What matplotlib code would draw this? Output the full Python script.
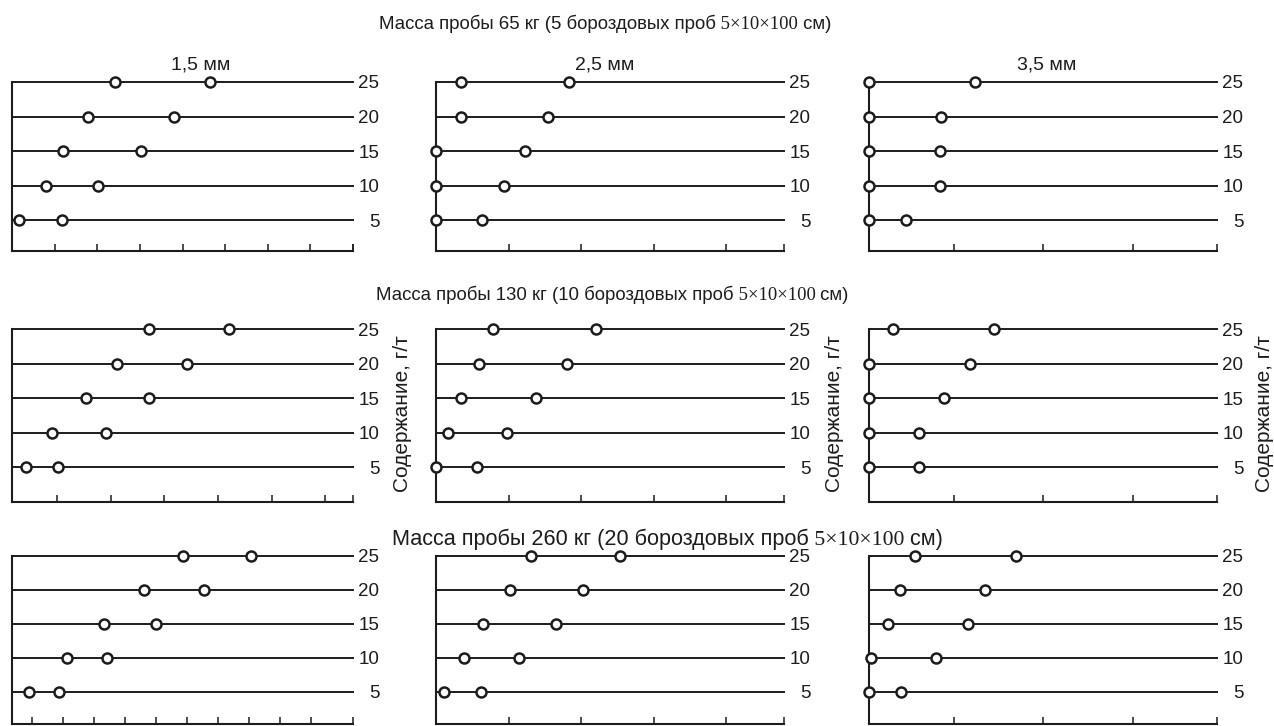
import matplotlib
matplotlib.use("Agg")
import matplotlib.pyplot as plt

plt.rcParams["font.family"] = ["Liberation Sans", "DejaVu Sans"]

INK = "#1c1c1c"
W, H = 1274, 726

LEVELS = [5, 10, 15, 20, 25]
LEVEL_LABELS = ["5", "10", "15", "20", "25"]

ROW_TITLES = [
    ("Масса пробы 65 кг (5 бороздовых проб", "5×10×100", "см)"),
    ("Масса пробы 130 кг (10 бороздовых проб", "5×10×100", "см)"),
    ("Масса пробы 260 кг (20 бороздовых проб", "5×10×100", "см)"),
]
COL_TITLES = ["1,5 мм", "2,5 мм", "3,5 мм"]
YLABEL = "Содержание, г/т"

# point positions, in units of the tick spacing of each panel (levels 5..25)
# 65 kg
m65_15_lo = [0.16, 0.80, 1.20, 1.78, 2.42]
m65_15_hi = [1.17, 2.02, 3.03, 3.80, 4.65]
m65_25_lo = [0.00, 0.00, 0.00, 0.34, 0.34]
m65_25_hi = [0.63, 0.94, 1.23, 1.54, 1.83]
m65_35_lo = [0.05, 0.05, 0.05, 0.05, 0.05]
m65_35_hi = [0.46, 0.84, 0.84, 0.85, 1.23]
# 130 kg
m130_15_lo = [0.42, 0.91, 1.54, 2.12, 2.72]
m130_15_hi = [1.02, 1.92, 2.71, 3.42, 4.21]
m130_25_lo = [0.00, 0.16, 0.35, 0.59, 0.78]
m130_25_hi = [0.57, 0.98, 1.38, 1.80, 2.21]
m130_35_lo = [0.05, 0.05, 0.05, 0.05, 0.32]
m130_35_hi = [0.61, 0.61, 0.89, 1.18, 1.45]
# 260 kg
m260_15_lo = [0.92, 2.15, 3.34, 4.62, 5.86]
m260_15_hi = [1.87, 3.42, 5.01, 6.56, 8.06]
m260_25_lo = [0.11, 0.39, 0.65, 1.02, 1.31]
m260_25_hi = [0.62, 1.15, 1.65, 2.03, 2.54]
m260_35_lo = [0.05, 0.07, 0.26, 0.40, 0.56]
m260_35_hi = [0.41, 0.80, 1.16, 1.35, 1.69]

PANELS = [
    [(m65_15_lo, m65_15_hi), (m65_25_lo, m65_25_hi), (m65_35_lo, m65_35_hi)],
    [(m130_15_lo, m130_15_hi), (m130_25_lo, m130_25_hi), (m130_35_lo, m130_35_hi)],
    [(m260_15_lo, m260_15_hi), (m260_25_lo, m260_25_hi), (m260_35_lo, m260_35_hi)],
]

# x ranges / tick counts per panel
XLIMS = [
    [(0.0, 8.0), (0.0, 4.8), (0.05, 3.94)],
    [(0.16, 6.52), (0.0, 4.8), (0.05, 3.94)],
    [(0.365, 11.35), (0.0, 4.8), (0.05, 3.94)],
]
NTICKS = [[8, 4, 3], [6, 4, 3], [10, 4, 3]]
YBOTTOM = [0.51, -0.07, 0.29]

# layout in pixels
COL_X = [(12, 353), (436, 784), (869, 1217)]
ROW_Y = [(82, 251), (329, 502), (556, 724)]
TITLE_X = [379, 376, 392]
TITLE_BASE = [29, 300, 545]
TITLE_SIZE = [13.4, 13.4, 15.6]


def fx(px):
    return px / W


def fy(py):
    return 1 - py / H


def draw_title(fig, renderer, x, y, parts, size):
    fams = [["Liberation Sans"], ["Liberation Serif"], ["Liberation Sans"]]
    for i, s in enumerate(parts):
        txt = s if i == 0 else " " + s
        t = fig.text(fx(x), fy(y), txt, family=fams[i], fontsize=size,
                     color=INK, ha="left", va="baseline")
        x = t.get_window_extent(renderer).x1


fig = plt.figure(figsize=(W / 100, H / 100), dpi=100)
renderer = fig.canvas.get_renderer()

for r in range(3):
    for c in range(3):
        (x0, x1), (y0, y1) = COL_X[c], ROW_Y[r]
        ax = fig.add_axes([fx(x0), fy(y1), fx(x1 - x0), (y1 - y0) / H])
        lo, hi = PANELS[r][c]
        xmin, xmax = XLIMS[r][c]
        ax.set_xlim(xmin, xmax)
        ax.set_ylim(YBOTTOM[r], 25)

        for lv in LEVELS:
            ax.axhline(lv, color=INK, lw=1.4, zorder=1, clip_on=False)
        for xs in (lo, hi):
            ax.plot(xs, LEVELS, ls="none", marker="o", ms=7.2, mew=1.8,
                    mfc="white", mec=INK, zorder=3, clip_on=False)

        for side in ("top", "right"):
            ax.spines[side].set_visible(False)
        for side in ("left", "bottom"):
            ax.spines[side].set_linewidth(1.5)
            ax.spines[side].set_color(INK)

        ax.set_xticks(list(range(1, NTICKS[r][c] + 1)) + [xmax])
        ax.set_xticklabels([])
        ax.tick_params(axis="x", direction="in", length=5, width=1.1, color=INK)

        ax.yaxis.tick_right()
        ax.set_yticks(LEVELS)
        ax.set_yticklabels(LEVEL_LABELS)
        ax.tick_params(axis="y", length=0, pad=19, labelsize=13.5, labelcolor=INK)
        for lab in ax.get_yticklabels():
            lab.set_ha("right")

for r in range(3):
    draw_title(fig, renderer, TITLE_X[r], TITLE_BASE[r], ROW_TITLES[r], TITLE_SIZE[r])

col_centers = [201, 605, 1047]
for c in range(3):
    fig.text(fx(col_centers[c]), fy(70), COL_TITLES[c], fontsize=14,
             color=INK, ha="center", va="baseline")

for xc in (403, 834, 1265):
    fig.text(fx(xc), fy(414), YLABEL, rotation=90, fontsize=15, color=INK,
             ha="center", va="center")

fig.savefig("out.png", dpi=100, facecolor="white")
